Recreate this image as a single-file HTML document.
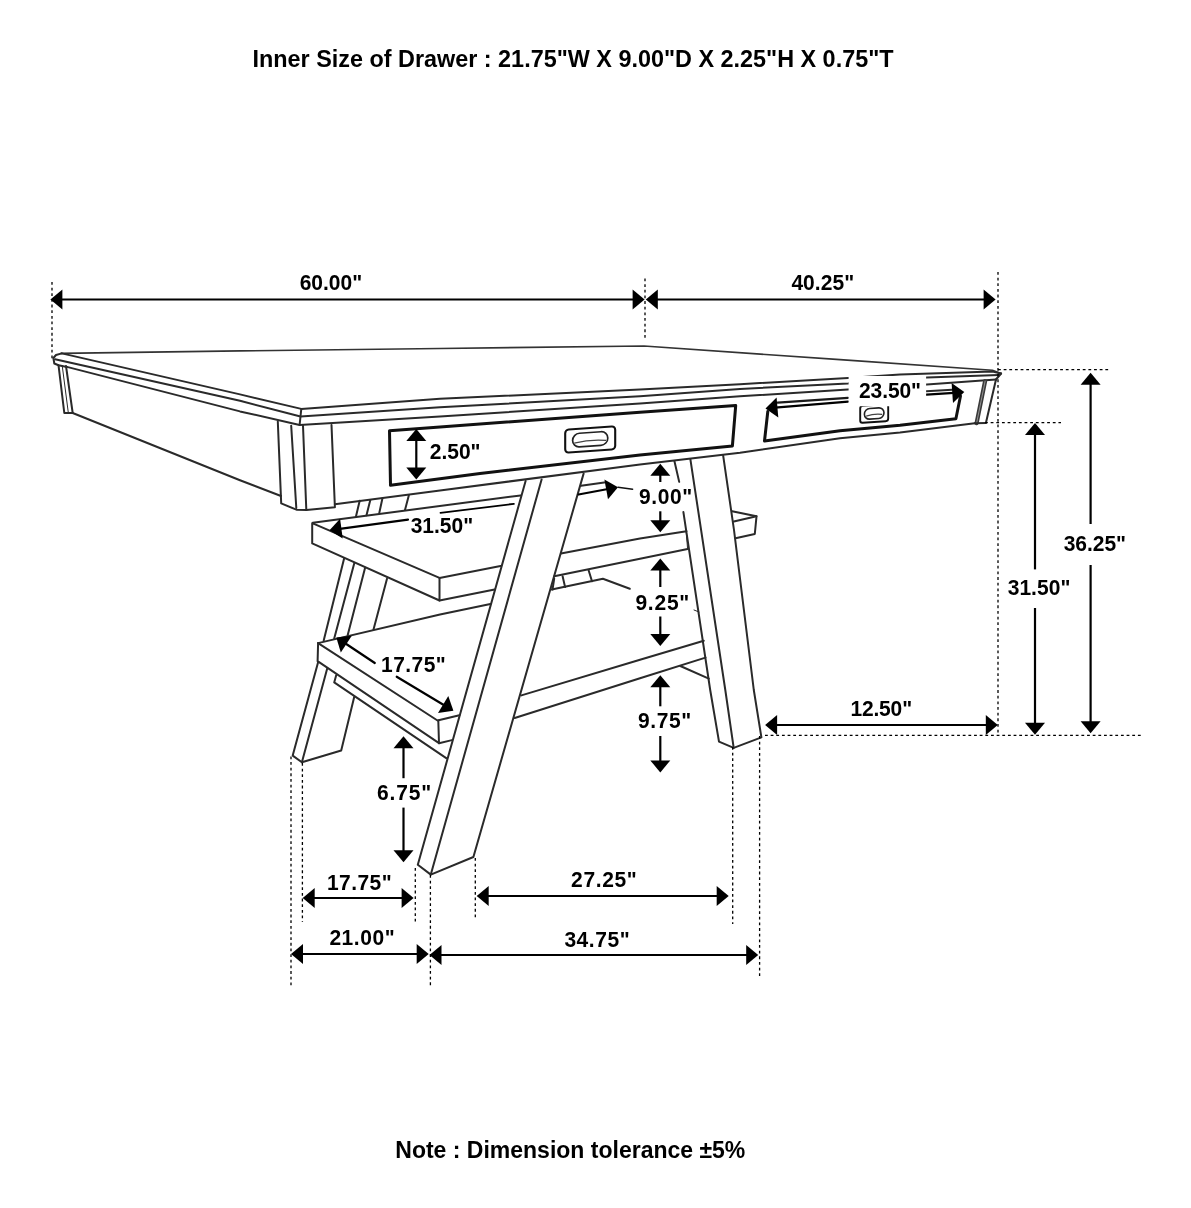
<!DOCTYPE html>
<html><head><meta charset="utf-8"><style>
html,body{margin:0;padding:0;background:#fff;width:1191px;height:1208px;overflow:hidden}
svg{display:block;will-change:transform}
text{font-family:"Liberation Sans",sans-serif;font-weight:bold;fill:#000}
</style></head><body>
<svg width="1191" height="1208" viewBox="0 0 1191 1208">
<path d="M61.0,353.4 L240.0,350.9 L440.0,348.5 L644.0,346.0 L840.0,359.6 L992.4,370.2 L1001.1,373.5" fill="none" stroke="#333" stroke-width="1.6" stroke-linejoin="round" stroke-linecap="round"/>
<path d="M61.8,353.4 L240.0,394.4 L301.3,408.9 L440.0,398.8 L640.0,389.6 L740.0,384.2 L848.0,378.1 L900.0,374.4 L992.4,371.6 L1001.1,373.5" fill="none" stroke="#2a2a2a" stroke-width="2.0" stroke-linejoin="round" stroke-linecap="round"/>
<path d="M55.1,359.3 L240.0,400.8 L300.5,416.5 L440.0,407.2 L640.0,396.3 L740.0,388.9 L848.0,383.5 L926.8,377.6 L998.8,374.9" fill="none" stroke="#2a2a2a" stroke-width="2.0" stroke-linejoin="round" stroke-linecap="round"/>
<path d="M66.9,366.9 L240.0,411.4 L299.6,424.9 L440.0,416.5 L640.0,403.5 L740.0,396.3 L848.0,389.6 L926.8,384.6 L996.0,379.5" fill="none" stroke="#2a2a2a" stroke-width="2.0" stroke-linejoin="round" stroke-linecap="round"/>
<path d="M61.8,353.4 L56.0,355.0 L53.4,358.0 L54.3,363.5 L58.5,365.2 L66.9,366.9" fill="none" stroke="#2a2a2a" stroke-width="2.0" stroke-linejoin="round" stroke-linecap="round"/>
<path d="M1001.1,373.5 L996.0,379.5" fill="none" stroke="#2a2a2a" stroke-width="2.0" stroke-linejoin="round" stroke-linecap="round"/>
<path d="M301.3,408.9 L300.5,416.5 L299.6,424.9" fill="none" stroke="#2a2a2a" stroke-width="2.0" stroke-linejoin="round" stroke-linecap="round"/>
<path d="M58.5,365.2 L64.3,413.0 L72.7,413.0 L66.0,366.0" fill="none" stroke="#2a2a2a" stroke-width="2.0" stroke-linejoin="round" stroke-linecap="round"/>
<path d="M62.2,365.5 L68.3,412.6" fill="none" stroke="#2a2a2a" stroke-width="1.0" stroke-linejoin="round" stroke-linecap="round"/>
<path d="M72.7,413.0 L240.0,480.2 L281.0,496.0" fill="none" stroke="#2a2a2a" stroke-width="2.0" stroke-linejoin="round" stroke-linecap="round"/>
<path d="M277.8,421.5 L281.2,503.4 L296.4,509.7 L306.5,509.9 L334.9,507.2 L331.5,424.9" fill="none" stroke="#2a2a2a" stroke-width="2.0" stroke-linejoin="round" stroke-linecap="round"/>
<path d="M291.2,425.7 L296.3,508.0" fill="none" stroke="#2a2a2a" stroke-width="2.0" stroke-linejoin="round" stroke-linecap="round"/>
<path d="M303.0,425.7 L306.3,509.7" fill="none" stroke="#2a2a2a" stroke-width="2.0" stroke-linejoin="round" stroke-linecap="round"/>
<path d="M334.9,504.3 L440.0,490.4 L640.0,464.6 L740.0,452.7 L840.0,438.3 L900.0,432.5 L974.8,423.3" fill="none" stroke="#2a2a2a" stroke-width="2.0" stroke-linejoin="round" stroke-linecap="round"/>
<path d="M389.5,430.8 L440.0,427.0 L640.0,412.3 L735.7,405.6 L732.4,445.9 L640.0,455.0 L480.0,473.6 L390.5,485.2 Z" fill="none" stroke="#111" stroke-width="3.0" stroke-linejoin="round" stroke-linecap="round"/>
<path d="M777.6,402.6 L848.0,397.8" fill="none" stroke="#1a1a1a" stroke-width="2.2" stroke-linejoin="round" stroke-linecap="round"/>
<path d="M926.3,391.2 L952.0,389.8" fill="none" stroke="#2a2a2a" stroke-width="2.0" stroke-linejoin="round" stroke-linecap="round"/>
<path d="M960.5,396.0 L955.9,418.7 L900.0,425.2 L840.0,430.8 L764.5,441.0 L767.8,411.5" fill="none" stroke="#111" stroke-width="3.0" stroke-linejoin="round" stroke-linecap="round"/>
<path d="M985.9,422.9 L996.0,379.5" fill="none" stroke="#2a2a2a" stroke-width="2.0" stroke-linejoin="round" stroke-linecap="round"/>
<path d="M985.1,381.2 L976.6,423.2" fill="none" stroke="#3a3a3a" stroke-width="4.2" stroke-linejoin="round" stroke-linecap="round"/>
<path d="M985.1,381.2 L976.6,423.2" fill="none" stroke="#aaa" stroke-width="0.8" stroke-linejoin="round" stroke-linecap="round"/>
<path d="M974.8,423.3 L985.9,422.9" fill="none" stroke="#2a2a2a" stroke-width="2.0" stroke-linejoin="round" stroke-linecap="round"/>
<g transform="translate(590.2,439.5) skewY(-4)"><rect x="-25" y="-11.5" width="50" height="23" rx="3.5" fill="none" stroke="#111" stroke-width="2.1"/><rect x="-17.6" y="-7" width="35.2" height="13.6" rx="6.8" fill="none" stroke="#222" stroke-width="1.7"/><path d="M-16,2.5 Q0,-0.5 16,2" fill="none" stroke="#444" stroke-width="1.3"/></g>
<clipPath id="hc"><rect x="850" y="406.2" width="50" height="30"/></clipPath><g clip-path="url(#hc)"><g transform="translate(874.2,413.5) skewY(-4)"><rect x="-14" y="-8.5" width="28" height="17" rx="2.5" fill="none" stroke="#111" stroke-width="1.9"/><rect x="-9.8" y="-5.3" width="19.6" height="10.6" rx="5.3" fill="none" stroke="#222" stroke-width="1.6"/><path d="M-8,2 Q0,0 8,1.5" fill="none" stroke="#444" stroke-width="1.2"/></g></g>
<path d="M359.7,500.8 L355.9,516.7" fill="none" stroke="#2a2a2a" stroke-width="2.0" stroke-linejoin="round" stroke-linecap="round"/>
<path d="M370.3,500.0 L366.5,515.2" fill="none" stroke="#2a2a2a" stroke-width="2.0" stroke-linejoin="round" stroke-linecap="round"/>
<path d="M382.4,498.5 L379.3,512.9" fill="none" stroke="#2a2a2a" stroke-width="2.0" stroke-linejoin="round" stroke-linecap="round"/>
<path d="M408.8,495.5 L405.0,509.9" fill="none" stroke="#2a2a2a" stroke-width="2.0" stroke-linejoin="round" stroke-linecap="round"/>
<path d="M312.8,522.7 L520.6,495.4" fill="none" stroke="#2a2a2a" stroke-width="2.0" stroke-linejoin="round" stroke-linecap="round"/>
<path d="M581.0,485.8 L606.0,482.2" fill="none" stroke="#2a2a2a" stroke-width="2.0" stroke-linejoin="round" stroke-linecap="round"/>
<path d="M312.2,523.3 L312.2,543.4 L439.5,600.5 L439.5,577.9 L312.8,523.3" fill="none" stroke="#2a2a2a" stroke-width="2.0" stroke-linejoin="round" stroke-linecap="round"/>
<path d="M439.5,577.9 L500.5,566.1" fill="none" stroke="#2a2a2a" stroke-width="2.0" stroke-linejoin="round" stroke-linecap="round"/>
<path d="M560.9,553.5 L640.0,538.5 L686.5,531.2" fill="none" stroke="#2a2a2a" stroke-width="2.0" stroke-linejoin="round" stroke-linecap="round"/>
<path d="M439.5,600.5 L494.6,589.6" fill="none" stroke="#2a2a2a" stroke-width="2.0" stroke-linejoin="round" stroke-linecap="round"/>
<path d="M554.2,576.2 L640.0,558.8 L687.6,549.1" fill="none" stroke="#2a2a2a" stroke-width="2.0" stroke-linejoin="round" stroke-linecap="round"/>
<path d="M551.7,589.6 L602.9,578.7 L629.8,588.8" fill="none" stroke="#2a2a2a" stroke-width="2.0" stroke-linejoin="round" stroke-linecap="round"/>
<path d="M554.2,578.7 L552.5,589.6" fill="none" stroke="#2a2a2a" stroke-width="2.0" stroke-linejoin="round" stroke-linecap="round"/>
<path d="M562.6,576.2 L565.1,587.1" fill="none" stroke="#2a2a2a" stroke-width="2.0" stroke-linejoin="round" stroke-linecap="round"/>
<path d="M588.6,570.3 L592.0,581.2" fill="none" stroke="#2a2a2a" stroke-width="2.0" stroke-linejoin="round" stroke-linecap="round"/>
<path d="M344.1,558.5 L323.7,640.5" fill="none" stroke="#2a2a2a" stroke-width="2.0" stroke-linejoin="round" stroke-linecap="round"/>
<path d="M354.2,563.6 L334.2,638.6" fill="none" stroke="#2a2a2a" stroke-width="2.0" stroke-linejoin="round" stroke-linecap="round"/>
<path d="M365.1,567.8 L347.6,635.5" fill="none" stroke="#2a2a2a" stroke-width="2.0" stroke-linejoin="round" stroke-linecap="round"/>
<path d="M387.0,578.7 L373.5,629.5" fill="none" stroke="#2a2a2a" stroke-width="2.0" stroke-linejoin="round" stroke-linecap="round"/>
<path d="M318.1,643.1 L440.0,614.5 L490.4,603.9" fill="none" stroke="#2a2a2a" stroke-width="2.0" stroke-linejoin="round" stroke-linecap="round"/>
<path d="M318.1,643.1 L437.5,720.5 L459.4,715.2" fill="none" stroke="#2a2a2a" stroke-width="2.0" stroke-linejoin="round" stroke-linecap="round"/>
<path d="M318.1,643.1 L317.6,661.2 L439.0,743.2 L438.3,720.5" fill="none" stroke="#2a2a2a" stroke-width="2.0" stroke-linejoin="round" stroke-linecap="round"/>
<path d="M439.0,743.2 L451.9,740.1" fill="none" stroke="#2a2a2a" stroke-width="2.0" stroke-linejoin="round" stroke-linecap="round"/>
<path d="M336.2,675.3 L334.2,682.4 L446.6,758.3" fill="none" stroke="#2a2a2a" stroke-width="2.0" stroke-linejoin="round" stroke-linecap="round"/>
<path d="M318.1,662.3 L292.7,755.6 L301.9,762.3 L341.2,750.5 L354.2,697.0" fill="none" stroke="#2a2a2a" stroke-width="2.0" stroke-linejoin="round" stroke-linecap="round"/>
<path d="M327.2,668.4 L301.9,762.3" fill="none" stroke="#2a2a2a" stroke-width="2.0" stroke-linejoin="round" stroke-linecap="round"/>
<path d="M525.6,481.0 L417.8,864.7 L430.8,874.6 L473.4,857.0 L583.6,473.6" fill="none" stroke="#2a2a2a" stroke-width="2.0" stroke-linejoin="round" stroke-linecap="round"/>
<path d="M541.6,479.5 L430.8,874.6" fill="none" stroke="#2a2a2a" stroke-width="2.0" stroke-linejoin="round" stroke-linecap="round"/>
<path d="M674.4,461.0 L679.2,481.9" fill="none" stroke="#2a2a2a" stroke-width="2.0" stroke-linejoin="round" stroke-linecap="round"/>
<path d="M683.4,512.1 L710.2,690.0 L719.0,741.6 L733.7,747.9 L761.4,737.4 L753.8,690.0 L734.0,530.0 L723.1,455.1" fill="none" stroke="#2a2a2a" stroke-width="2.0" stroke-linejoin="round" stroke-linecap="round"/>
<path d="M690.4,459.3 L725.3,690.0 L733.7,747.9" fill="none" stroke="#2a2a2a" stroke-width="2.0" stroke-linejoin="round" stroke-linecap="round"/>
<path d="M521.4,695.4 L640.0,659.8 L703.8,640.8" fill="none" stroke="#2a2a2a" stroke-width="2.0" stroke-linejoin="round" stroke-linecap="round"/>
<path d="M514.7,718.0 L640.0,678.2 L705.5,657.6" fill="none" stroke="#2a2a2a" stroke-width="2.0" stroke-linejoin="round" stroke-linecap="round"/>
<path d="M680.3,666.0 L708.8,678.6" fill="none" stroke="#2a2a2a" stroke-width="2.0" stroke-linejoin="round" stroke-linecap="round"/>
<path d="M732.1,511.3 L756.5,516.3 L754.8,534.0 L735.5,538.2" fill="none" stroke="#2a2a2a" stroke-width="2.0" stroke-linejoin="round" stroke-linecap="round"/>
<path d="M733.8,521.4 L756.5,516.3" fill="none" stroke="#2a2a2a" stroke-width="2.0" stroke-linejoin="round" stroke-linecap="round"/>
<path d="M686.2,531.5 L687.6,549.1" fill="none" stroke="#2a2a2a" stroke-width="1.0" stroke-linejoin="round" stroke-linecap="round"/>
<path d="M694.0,610.0 L699.0,612.0" fill="none" stroke="#2a2a2a" stroke-width="1.0" stroke-linejoin="round" stroke-linecap="round"/>
<line x1="52" y1="282" x2="52" y2="359" stroke="#000" stroke-width="1.3" stroke-dasharray="2.8 2.85"/>
<line x1="645" y1="278.5" x2="645" y2="339" stroke="#000" stroke-width="1.3" stroke-dasharray="2.8 2.85"/>
<line x1="998" y1="272" x2="998" y2="735" stroke="#000" stroke-width="1.3" stroke-dasharray="2.8 2.85"/>
<line x1="998" y1="369.7" x2="1109.5" y2="369.7" stroke="#000" stroke-width="1.3" stroke-dasharray="2.8 2.85"/>
<line x1="985" y1="422.6" x2="1061" y2="422.6" stroke="#000" stroke-width="1.3" stroke-dasharray="2.8 2.85"/>
<line x1="765" y1="735.3" x2="1141" y2="735.3" stroke="#000" stroke-width="1.3" stroke-dasharray="2.8 2.85"/>
<line x1="291" y1="756.4" x2="291" y2="986" stroke="#000" stroke-width="1.3" stroke-dasharray="2.8 2.85"/>
<line x1="302.4" y1="763" x2="302.4" y2="922" stroke="#000" stroke-width="1.3" stroke-dasharray="2.8 2.85"/>
<line x1="415.3" y1="868" x2="415.3" y2="921.4" stroke="#000" stroke-width="1.3" stroke-dasharray="2.8 2.85"/>
<line x1="430.4" y1="875" x2="430.4" y2="986" stroke="#000" stroke-width="1.3" stroke-dasharray="2.8 2.85"/>
<line x1="475.3" y1="858" x2="475.3" y2="919" stroke="#000" stroke-width="1.3" stroke-dasharray="2.8 2.85"/>
<line x1="732.7" y1="747" x2="732.7" y2="924" stroke="#000" stroke-width="1.3" stroke-dasharray="2.8 2.85"/>
<line x1="759.6" y1="736" x2="759.6" y2="978" stroke="#000" stroke-width="1.3" stroke-dasharray="2.8 2.85"/>
<line x1="60.0" y1="299.5" x2="635.0" y2="299.5" stroke="#000" stroke-width="2.2"/>
<path d="M50.4,299.5 L62.4,289.5 L62.4,309.5 Z" fill="#000"/>
<path d="M644.6,299.5 L632.6,309.5 L632.6,289.5 Z" fill="#000"/>
<line x1="655.4" y1="299.5" x2="986.0" y2="299.5" stroke="#000" stroke-width="2.2"/>
<path d="M645.8,299.5 L657.8,289.5 L657.8,309.5 Z" fill="#000"/>
<path d="M995.6,299.5 L983.6,309.5 L983.6,289.5 Z" fill="#000"/>
<path d="M1090.6,372.7 L1100.6,384.7 L1080.6,384.7 Z" fill="#000"/>
<line x1="1090.6" y1="383" x2="1090.6" y2="524" stroke="#000" stroke-width="2.2"/>
<line x1="1090.6" y1="565" x2="1090.6" y2="724" stroke="#000" stroke-width="2.2"/>
<path d="M1090.6,733.2 L1080.6,721.2 L1100.6,721.2 Z" fill="#000"/>
<path d="M1035.0,423.0 L1045.0,435.0 L1025.0,435.0 Z" fill="#000"/>
<line x1="1035" y1="433" x2="1035" y2="569.4" stroke="#000" stroke-width="2.2"/>
<line x1="1035" y1="608" x2="1035" y2="725" stroke="#000" stroke-width="2.2"/>
<path d="M1035.0,734.8 L1025.0,722.8 L1045.0,722.8 Z" fill="#000"/>
<line x1="774.7" y1="725.0" x2="988.2" y2="725.0" stroke="#000" stroke-width="2.2"/>
<path d="M765.1,725.0 L777.1,715.0 L777.1,735.0 Z" fill="#000"/>
<path d="M997.8,725.0 L985.8,735.0 L985.8,715.0 Z" fill="#000"/>
<line x1="416.3" y1="438.6" x2="416.3" y2="469.9" stroke="#000" stroke-width="2.2"/>
<path d="M416.3,429.0 L426.3,441.0 L406.3,441.0 Z" fill="#000"/>
<path d="M416.3,479.5 L406.3,467.5 L426.3,467.5 Z" fill="#000"/>
<path d="M660.3,463.8 L670.3,475.8 L650.3,475.8 Z" fill="#000"/>
<line x1="660.3" y1="473.8" x2="660.3" y2="482" stroke="#000" stroke-width="2.2"/>
<line x1="660.3" y1="511.3" x2="660.3" y2="522.3" stroke="#000" stroke-width="2.2"/>
<path d="M660.3,532.3 L650.3,520.3 L670.3,520.3 Z" fill="#000"/>
<path d="M660.3,558.5 L670.3,570.5 L650.3,570.5 Z" fill="#000"/>
<line x1="660.3" y1="568.5" x2="660.3" y2="587" stroke="#000" stroke-width="2.2"/>
<line x1="660.3" y1="616.5" x2="660.3" y2="635.9" stroke="#000" stroke-width="2.2"/>
<path d="M660.3,645.9 L650.3,633.9 L670.3,633.9 Z" fill="#000"/>
<path d="M660.3,675.3 L670.3,687.3 L650.3,687.3 Z" fill="#000"/>
<line x1="660.3" y1="685.3" x2="660.3" y2="706.3" stroke="#000" stroke-width="2.2"/>
<line x1="660.3" y1="736" x2="660.3" y2="762.4" stroke="#000" stroke-width="2.2"/>
<path d="M660.3,772.4 L650.3,760.4 L670.3,760.4 Z" fill="#000"/>
<path d="M403.5,736.3 L413.5,748.3 L393.5,748.3 Z" fill="#000"/>
<line x1="403.5" y1="746.3" x2="403.5" y2="778.2" stroke="#000" stroke-width="2.2"/>
<line x1="403.5" y1="807.6" x2="403.5" y2="852.2" stroke="#000" stroke-width="2.2"/>
<path d="M403.5,862.2 L393.5,850.2 L413.5,850.2 Z" fill="#000"/>
<line x1="312.3" y1="898.0" x2="404.0" y2="898.0" stroke="#000" stroke-width="2.2"/>
<path d="M302.7,898.0 L314.7,888.0 L314.7,908.0 Z" fill="#000"/>
<path d="M413.6,898.0 L401.6,908.0 L401.6,888.0 Z" fill="#000"/>
<line x1="300.6" y1="954.0" x2="419.1" y2="954.0" stroke="#000" stroke-width="2.2"/>
<path d="M291.0,954.0 L303.0,944.0 L303.0,964.0 Z" fill="#000"/>
<path d="M428.7,954.0 L416.7,964.0 L416.7,944.0 Z" fill="#000"/>
<line x1="486.3" y1="896.0" x2="719.1" y2="896.0" stroke="#000" stroke-width="2.2"/>
<path d="M476.7,896.0 L488.7,886.0 L488.7,906.0 Z" fill="#000"/>
<path d="M728.7,896.0 L716.7,906.0 L716.7,886.0 Z" fill="#000"/>
<line x1="439.1" y1="955.0" x2="748.6" y2="955.0" stroke="#000" stroke-width="2.2"/>
<path d="M429.5,955.0 L441.5,945.0 L441.5,965.0 Z" fill="#000"/>
<path d="M758.2,955.0 L746.2,965.0 L746.2,945.0 Z" fill="#000"/>
<path d="M329.5,530.3 L340.1,518.8 L342.7,538.6 Z" fill="#000"/>
<path d="M338.0,529.2 L408.0,519.7" fill="none" stroke="#000" stroke-width="2.2" stroke-linejoin="round" stroke-linecap="round"/>
<path d="M440.5,512.9 L513.9,503.8" fill="none" stroke="#000" stroke-width="1.8" stroke-linejoin="round" stroke-linecap="round"/>
<path d="M578.5,494.5 L608.0,489.0" fill="none" stroke="#000" stroke-width="2.2" stroke-linejoin="round" stroke-linecap="round"/>
<path d="M618.0,487.3 L608.0,499.3 L604.4,479.6 Z" fill="#000"/>
<path d="M618.0,487.3 L632.6,489.2" fill="none" stroke="#111" stroke-width="1.5" stroke-linejoin="round" stroke-linecap="round"/>
<path d="M964.3,392.1 L953.0,402.9 L951.6,382.9 Z" fill="#000"/>
<path d="M926.5,394.7 L954.0,392.8" fill="none" stroke="#000" stroke-width="2.2" stroke-linejoin="round" stroke-linecap="round"/>
<path d="M765.5,408.4 L776.6,397.4 L778.3,417.4 Z" fill="#000"/>
<path d="M775.0,407.6 L848.1,401.6" fill="none" stroke="#000" stroke-width="2.2" stroke-linejoin="round" stroke-linecap="round"/>
<path d="M336.3,637.4 L351.8,635.7 L340.8,652.4 Z" fill="#000"/>
<path d="M344.0,642.5 L374.8,663.0" fill="none" stroke="#000" stroke-width="2.2" stroke-linejoin="round" stroke-linecap="round"/>
<path d="M396.7,676.7 L445.0,705.7" fill="none" stroke="#000" stroke-width="2.2" stroke-linejoin="round" stroke-linecap="round"/>
<path d="M453.4,710.7 L438.0,713.1 L448.3,696.0 Z" fill="#000"/>
<rect x="848.6" y="376" width="77.5" height="29.6" fill="#fff"/>
<g transform="translate(299.7,290.3) scale(1,1.0625)"><text x="0" y="0" font-size="21" textLength="62.4" lengthAdjust="spacing">60.00"</text></g>
<g transform="translate(791.4,290.3) scale(1,1.0625)"><text x="0" y="0" font-size="21" textLength="62.7" lengthAdjust="spacing">40.25"</text></g>
<g transform="translate(859.0,398.1) scale(1,1.0625)"><text x="0" y="0" font-size="21" textLength="62.0" lengthAdjust="spacing">23.50"</text></g>
<g transform="translate(429.7,459.0) scale(1,1.0625)"><text x="0" y="0" font-size="21" textLength="50.9" lengthAdjust="spacing">2.50"</text></g>
<g transform="translate(639.0,504.2) scale(1,1.0625)"><text x="0" y="0" font-size="21" textLength="53.1" lengthAdjust="spacing">9.00"</text></g>
<g transform="translate(410.7,533.0) scale(1,1.0625)"><text x="0" y="0" font-size="21" textLength="62.4" lengthAdjust="spacing">31.50"</text></g>
<g transform="translate(1063.7,550.9) scale(1,1.0625)"><text x="0" y="0" font-size="21" textLength="62.3" lengthAdjust="spacing">36.25"</text></g>
<g transform="translate(1007.7,595.4) scale(1,1.0625)"><text x="0" y="0" font-size="21" textLength="62.7" lengthAdjust="spacing">31.50"</text></g>
<g transform="translate(635.4,610.4) scale(1,1.0625)"><text x="0" y="0" font-size="21" textLength="53.9" lengthAdjust="spacing">9.25"</text></g>
<g transform="translate(381.1,672.4) scale(1,1.0625)"><text x="0" y="0" font-size="21" textLength="64.6" lengthAdjust="spacing">17.75"</text></g>
<g transform="translate(850.4,716.2) scale(1,1.0625)"><text x="0" y="0" font-size="21" textLength="61.7" lengthAdjust="spacing">12.50"</text></g>
<g transform="translate(638.1,728.4) scale(1,1.0625)"><text x="0" y="0" font-size="21" textLength="53.2" lengthAdjust="spacing">9.75"</text></g>
<g transform="translate(377.1,800.4) scale(1,1.0625)"><text x="0" y="0" font-size="21" textLength="54.2" lengthAdjust="spacing">6.75"</text></g>
<g transform="translate(327.0,890.4) scale(1,1.0625)"><text x="0" y="0" font-size="21" textLength="64.7" lengthAdjust="spacing">17.75"</text></g>
<g transform="translate(571.1,887.4) scale(1,1.0625)"><text x="0" y="0" font-size="21" textLength="65.7" lengthAdjust="spacing">27.25"</text></g>
<g transform="translate(329.4,945.4) scale(1,1.0625)"><text x="0" y="0" font-size="21" textLength="65.3" lengthAdjust="spacing">21.00"</text></g>
<g transform="translate(564.4,947.4) scale(1,1.0625)"><text x="0" y="0" font-size="21" textLength="65.3" lengthAdjust="spacing">34.75"</text></g>
<text x="573" y="67" font-size="23.4" text-anchor="middle">Inner Size of Drawer : 21.75"W X 9.00"D X 2.25"H X 0.75"T</text>
<text x="570.3" y="1157.6" font-size="23" text-anchor="middle">Note : Dimension tolerance ±5%</text>
</svg>
</body></html>
